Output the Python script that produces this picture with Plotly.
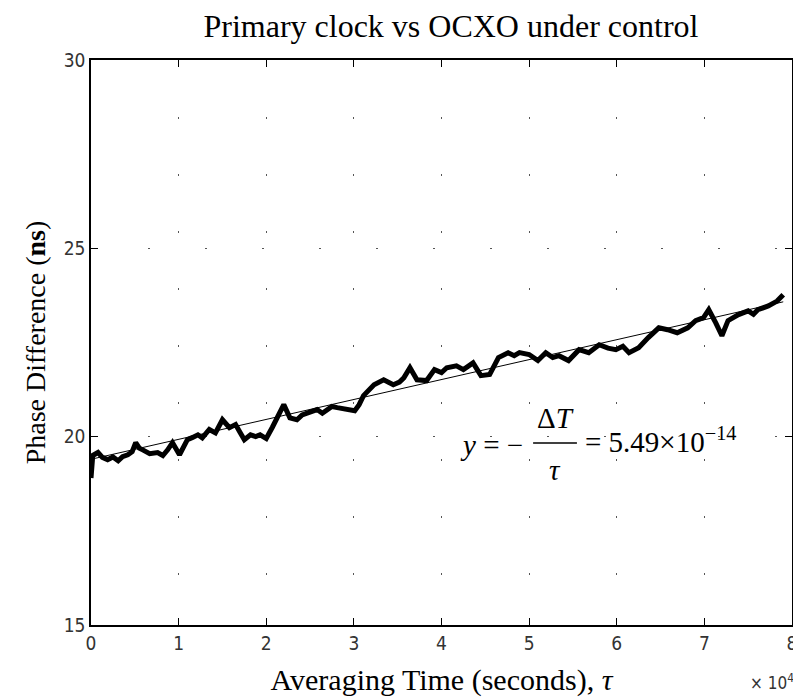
import plotly.graph_objects as go

# Averaging time in units of 10^4 seconds, phase difference in ns
tau_1e4 = [0.0, 0.02, 0.08, 0.13, 0.19, 0.25, 0.31, 0.36, 0.42, 0.47, 0.51, 0.55, 0.59, 0.67,
           0.76, 0.82, 0.875, 0.93, 1.01, 1.05, 1.10, 1.16, 1.22, 1.27, 1.35, 1.42, 1.46, 1.50,
           1.58, 1.65, 1.70, 1.75, 1.82, 1.88, 1.93, 2.0, 2.07, 2.13, 2.2, 2.27, 2.35, 2.41,
           2.47, 2.58, 2.64, 2.69, 2.75, 2.81, 2.92, 3.01, 3.06, 3.11, 3.23, 3.34, 3.45, 3.52,
           3.57, 3.64, 3.72, 3.83, 3.92, 4.0, 4.06, 4.17, 4.25, 4.36, 4.45, 4.55, 4.65, 4.76,
           4.83, 4.89, 5.0, 5.1, 5.19, 5.27, 5.34, 5.45, 5.57, 5.68, 5.8, 5.9, 5.99, 6.07,
           6.14, 6.25, 6.36, 6.48, 6.58, 6.69, 6.81, 6.9, 6.99, 7.05, 7.13, 7.2, 7.27, 7.39,
           7.5, 7.56, 7.61, 7.73, 7.83, 7.9]
phase_ns = [18.9, 19.5, 19.58, 19.45, 19.39, 19.46, 19.36, 19.47, 19.52, 19.6, 19.84, 19.7,
            19.65, 19.55, 19.58, 19.5, 19.65, 19.84, 19.52, 19.7, 19.92, 19.98, 20.05, 19.97,
            20.19, 20.1, 20.3, 20.45, 20.24, 20.32, 20.12, 19.92, 20.05, 20.0, 20.05, 19.95,
            20.25, 20.5, 20.85, 20.5, 20.45, 20.58, 20.64, 20.72, 20.62, 20.69, 20.8, 20.77,
            20.72, 20.69, 20.85, 21.09, 21.38, 21.51, 21.38, 21.45, 21.56, 21.83, 21.51, 21.49,
            21.78, 21.7, 21.83, 21.88, 21.78, 21.96, 21.62, 21.65, 22.1, 22.23, 22.15, 22.23,
            22.18, 22.02, 22.23, 22.1, 22.15, 22.02, 22.31, 22.23, 22.44, 22.35, 22.31, 22.4,
            22.23, 22.36, 22.63, 22.89, 22.84, 22.76, 22.89, 23.08, 23.16, 23.37, 23.02, 22.68,
            23.08, 23.24, 23.34, 23.25, 23.37, 23.47, 23.6, 23.77]

# Linear fit (endpoints)
fit_tau = [0.0, 7.9]
fit_ns = [19.4, 23.58]

x_ticks = [0, 1, 2, 3, 4, 5, 6, 7, 8]
y_ticks = [15, 20, 25, 30]

serif = "Liberation Serif, Times New Roman, serif"
narrow = "Liberation Sans Narrow, DejaVu Sans Condensed, Arial Narrow, sans-serif"

fig = go.Figure()
fig.add_trace(go.Scatter(x=fit_tau, y=fit_ns, mode="lines",
                         line=dict(color="black", width=1), showlegend=False))
fig.add_trace(go.Scatter(x=tau_1e4, y=phase_ns, mode="lines",
                         line=dict(color="black", width=5), showlegend=False))

axis_common = dict(showline=True, linecolor="black", linewidth=1.5, mirror="ticks",
                   ticks="inside", ticklen=7, tickcolor="black", zeroline=False,
                   showgrid=True, gridcolor="#555555", gridwidth=1, griddash="2px,55px",
                   tickfont=dict(family=narrow, size=19, color="#333333"))

fig.update_layout(
    width=801, height=700,
    paper_bgcolor="white", plot_bgcolor="white",
    margin=dict(l=83, r=14, t=52, b=83),
    title=dict(text="Primary clock vs OCXO under control", x=0.553, xanchor="center",
               y=0.975, yanchor="middle", font=dict(family=serif, size=32, color="black")),
    xaxis=dict(range=[0, 8], tickvals=x_ticks, **axis_common),
    yaxis=dict(range=[15, 30], tickvals=y_ticks, **axis_common),
)

fig.update_xaxes(title=dict(text="Averaging Time (seconds), <i>τ</i>",
                            font=dict(family=serif, size=30, color="black"), standoff=16))
fig.update_yaxes(title=dict(text="Phase Difference (<b>ns</b>)",
                            font=dict(family=serif, size=28, color="black"), standoff=10))

# x10^4 exponent label
fig.add_annotation(text="× 10<sup>4</sup>", xref="paper", yref="paper", x=1.006, y=-0.1,
                   xanchor="right", yanchor="middle", showarrow=False,
                   font=dict(family=narrow, size=17, color="#333333"))

# Formula y = -ΔT/τ = 5.49×10^-14
fsize = 29
def px_x(px):
    return (px - 83) / 704.0
def px_y(py):
    return (617 - py) / 565.0

fig.add_annotation(text="<i>y</i> = −", xref="paper", yref="paper", x=px_x(452), y=px_y(437),
                   xanchor="left", yanchor="middle", showarrow=False,
                   font=dict(family=serif, size=fsize, color="black"))
fig.add_annotation(text="Δ<i>T</i>", xref="paper", yref="paper", x=px_x(549), y=px_y(410),
                   xanchor="center", yanchor="middle", showarrow=False,
                   font=dict(family=serif, size=fsize, color="black"))
fig.add_annotation(text="<i>τ</i>", xref="paper", yref="paper", x=px_x(549), y=px_y(462),
                   xanchor="center", yanchor="middle", showarrow=False,
                   font=dict(family=serif, size=fsize, color="black"))
fig.add_shape(type="line", xref="paper", yref="paper", x0=px_x(527), x1=px_x(571),
              y0=px_y(435), y1=px_y(435), line=dict(color="black", width=1.5))
fig.add_annotation(text="= 5.49×10<sup>−14</sup>", xref="paper", yref="paper",
                   x=px_x(577), y=px_y(432), xanchor="left", yanchor="middle", showarrow=False,
                   font=dict(family=serif, size=fsize, color="black"))

fig.write_html("out.html")
